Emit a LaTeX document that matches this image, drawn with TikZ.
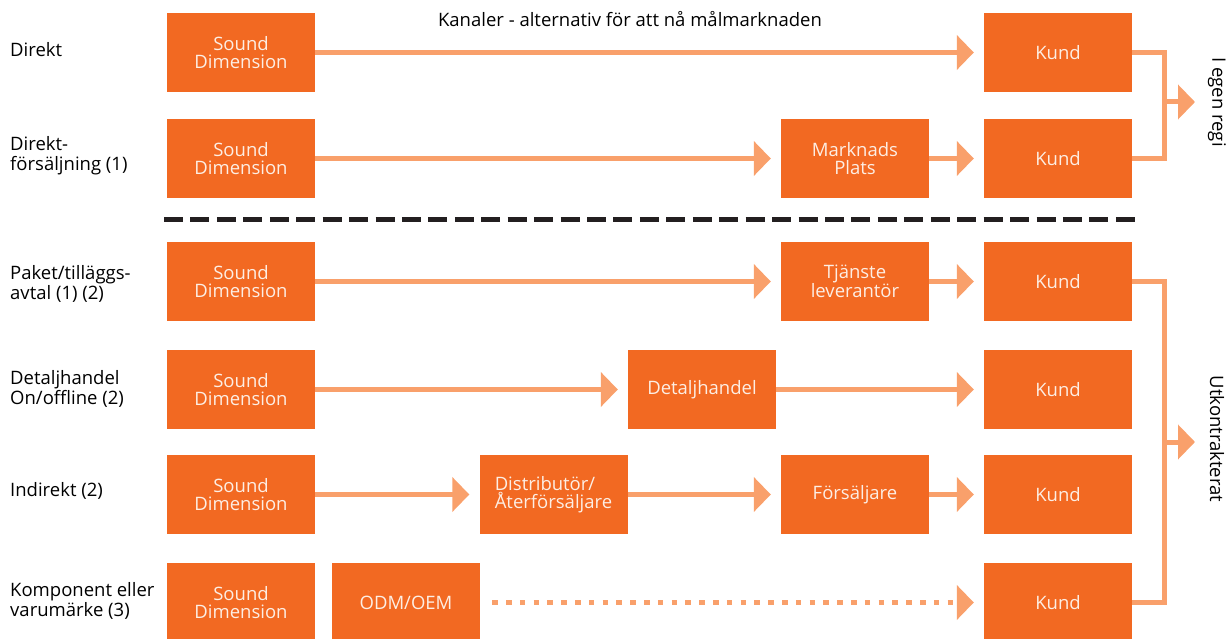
\documentclass[tikz,border=0pt]{standalone}
\usepackage{fontspec}
\setmainfont{Open Sans}
\usepackage{tikz}
\usetikzlibrary{arrows.meta, positioning}

\definecolor{boxorange}{HTML}{F26922}
\definecolor{floworange}{HTML}{F9A06B}
\definecolor{boxtext}{HTML}{FDEEE4}
\definecolor{sepgrey}{HTML}{231F20}

\tikzset{
  chan/.style        = {draw=none, rectangle, fill=boxorange, text=boxtext, minimum width=148pt, minimum height=79pt, inner sep=0pt, align=center, font=\fontsize{18.5}{18.5}\selectfont},
  lbl/.style         = {draw=none, anchor=west, align=left, inner sep=0pt, font=\fontsize{18.5}{20}\selectfont},
  flow/.style        = {draw=floworange, line width=5pt, -{Triangle[length=17pt, width=34pt]}, shorten >=10pt},
  bracketline/.style = {draw=floworange, line width=5pt},
  sepline/.style     = {draw=sepgrey, line width=5pt, dash pattern=on 19pt off 7.44pt},
}

\begin{document}
\begin{tikzpicture}[x=1pt, y=-1pt]

\useasboundingbox (0,0) rectangle (1232,639);

\node [draw=none, font=\fontsize{18.5}{20}\selectfont] (title) at (630,19) {Kanaler - alternativ för att nå målmarknaden};

% row labels
\node [lbl] (l1) at (10,50)    {Direkt};
\node [lbl] (l2) at (10,156)   {Direkt-\\försäljning (1)};
\node [lbl] (l3) at (10,284)   {Paket/tilläggs-\\avtal (1) (2)};
\node [lbl] (l4) at (10,389)   {Detaljhandel\\On/offline (2)};
\node [lbl] (l5) at (10,491)   {Indirekt (2)};
\node [lbl] (l6) at (10,601)   {Komponent eller\\varumärke (3)};

% sender
\node [chan] (sd1) at (241,52.5)  {Sound\\Dimension};
\node [chan] (sd2) at (241,158.5) {Sound\\Dimension};
\node [chan] (sd3) at (241,281.5) {Sound\\Dimension};
\node [chan] (sd4) at (241,389.5) {Sound\\Dimension};
\node [chan] (sd5) at (241,494.5) {Sound\\Dimension};
\node [chan] (sd6) at (241,602.5) {Sound\\Dimension};

% intermediaries
\node [chan]             (mplats)  at (855,158.5)  {Marknads\\Plats};
\node [chan]             (tjanst)  at (855,281.5)  {Tjänste\\leverantör};
\node [chan]             (detalj)  at (702,389.5)  {Detaljhandel};
\node [chan, align=left] (distr)   at (553.5,494.5) {Distributör/\\Återförsäljare};
\node [chan]             (forsalj) at (855,494.5)  {Försäljare};
\node [chan]             (odm)     at (406,602.5)  {ODM/OEM};

% customers
\node [chan] (kund1) at (1058,52.5)  {Kund};
\node [chan] (kund2) at (1058,158.5) {Kund};
\node [chan] (kund3) at (1058,281.5) {Kund};
\node [chan] (kund4) at (1058,389.5) {Kund};
\node [chan] (kund5) at (1058,494.5) {Kund};
\node [chan] (kund6) at (1058,602.5) {Kund};

\path [sepline] (164,220) -- (1135,220);

\path [flow] (sd1) -- (kund1);
\path [flow] (sd2) -- (mplats);
	\path [flow] (mplats) -- (kund2);
\path [flow] (sd3) -- (tjanst);
	\path [flow] (tjanst) -- (kund3);
\path [flow] (sd4) -- (detalj);
	\path [flow] (detalj) -- (kund4);
\path [flow] (sd5) -- (distr);
	\path [flow] (distr) -- (forsalj);
	\path [flow] (forsalj) -- (kund5);
\path [flow, shorten <=12pt, dash pattern=on 5.5pt off 8.3pt] (odm) -- (kund6);

% brackets
\coordinate (egen)    at (1164,102);
\coordinate (egentip) at (1195,102);
\coordinate (utk)     at (1164,442);
\coordinate (utktip)  at (1195,442);

\path [bracketline] (kund1.east) -| (egen) |- (kund2.east);
\path [flow, shorten >=0pt] (egen) -- (egentip);
\path [bracketline] (kund3.east) -| (utk) |- (kund6.east);
\path [flow, shorten >=0pt] (utk) -- (utktip);

\node [draw=none, rotate=-90, font=\fontsize{18.5}{20}\selectfont] (egenlbl) at (1217,102) {I egen regi};
\node [draw=none, rotate=-90, font=\fontsize{18.5}{20}\selectfont] (utklbl)  at (1217,439) {Utkontrakterat};

\end{tikzpicture}
\end{document}
